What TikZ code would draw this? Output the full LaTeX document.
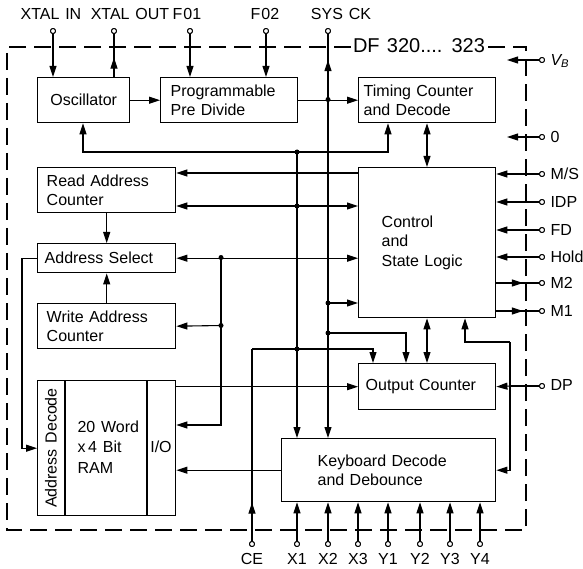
\documentclass[tikz,border=0pt]{standalone}
\usepackage{fontspec}
\setmainfont{Liberation Sans}[WordSpace=1.3]
\usetikzlibrary{arrows.meta,decorations.markings}
\begin{document}
\begin{tikzpicture}[x=1pt,y=-1pt,
  every node/.style={font=\fontsize{16}{18.5}\selectfont},
  blk/.style={draw, line width=1.4pt, anchor=north west, inner ysep=0pt},
  wire/.style={line width=1.1pt},
  tipa/.tip={Triangle[length=11pt,width=7pt]},
  arr/.style={wire, -tipa},
  arrboth/.style={wire, tipa-tipa},
  midarr/.style={wire, postaction={decorate}, decoration={markings, mark=at position #1 with {\arrow{tipa}}}},
  term/.style={circle, draw, line width=0.9pt, fill=white, inner sep=0pt, minimum size=5pt},
  bord/.style={line width=1.5pt, dash pattern=on 17pt off 8pt},
  dotj/.style={fill=black}
]
\useasboundingbox (0,0) rectangle (583,569);

% ---------- boxes ----------
\node[blk, minimum width=92pt, minimum height=45pt] (osc) at (37,77) {Oscillator};
\node[blk, minimum width=137pt, minimum height=45pt, text width=117pt, inner xsep=10pt, align=left] (ppd) at (160,77) {Programmable\\Pre Divide};
\node[blk, minimum width=137pt, minimum height=45pt, text width=127pt, inner xsep=5pt, align=left] (tcd) at (358,77) {Timing Counter\\and Decode};
\node[blk, minimum width=137pt, minimum height=150pt, text width=91pt, inner xsep=23pt, align=left, font=\fontsize{16}{19.5}\selectfont] (ctl) at (358,167) {Control\\and\\State Logic};
\node[blk, minimum width=138pt, minimum height=45pt, text width=120pt, inner xsep=9pt, align=left] (rac) at (37,167) {Read Address\\Counter};
\node[blk, minimum width=138pt, minimum height=29pt, text width=124pt, inner xsep=7pt, align=left] (asel) at (37,243) {Address Select};
\node[blk, minimum width=138pt, minimum height=45pt, text width=120pt, inner xsep=9pt, align=left] (wac) at (37,303) {Write Address\\Counter};
\node[blk, minimum width=138pt, minimum height=135pt] (ram) at (37,380) {};
\node[blk, minimum width=137pt, minimum height=46pt, text width=123pt, inner xsep=7pt, align=left] (oc) at (358,363) {Output Counter};
\node[blk, minimum width=214pt, minimum height=63pt, text width=142pt, inner xsep=36pt, align=left] (kdd) at (281,438) {Keyboard Decode\\and Debounce};

% RAM interior
\draw[line width=1.4pt] ([xshift=28pt]ram.north west) -- ([xshift=28pt]ram.south west);
\draw[line width=1.4pt] ([xshift=110pt]ram.north west) -- ([xshift=110pt]ram.south west);
\node[rotate=90] (adec) at (51,448) {Address Decode};
\node[anchor=west, align=left, font=\fontsize{16}{20.5}\selectfont] (ramtxt) at (74,447) {20 Word\\x\,4 Bit\\RAM};
\node (io) at (161,447) {I/O};

% ---------- border ----------
\draw[bord] (351,47) -- (7,47) -- (7,530) -- (526,530) -- (526,47) -- (488,47);
\node[font=\fontsize{20}{22}\selectfont] (title) at (419,46) {DF 320.... 323};

% ---------- terminals ----------
\node[term] (pxin) at (53,31) {};
\node[term] (pxout) at (114,31) {};
\node[term] (pf01) at (190,31) {};
\node[term] (pf02) at (266,31) {};
\node[term] (psys) at (328,31) {};
\node (lxin) at (51,14) {XTAL IN};
\node (lxout) at (130,14) {XTAL OUT};
\node (lf01) at (187,14) {F\kern1pt 01};
\node (lf02) at (265,14) {F\kern1pt 02};
\node (lsys) at (341,14) {SYS CK};

\node[term] (pvb) at (542,60) {};
\node[term] (p0) at (542,137) {};
\node[term] (pms) at (542,174) {};
\node[term] (pidp) at (542,202) {};
\node[term] (pfd) at (542,230) {};
\node[term] (phold) at (542,257) {};
\node[term] (pm2) at (542,283) {};
\node[term] (pm1) at (542,311) {};
\node[term] (pdp) at (542,386) {};
\node[anchor=west] (lvb) at (547,61) {\itshape V\textsubscript{\itshape B}};
\node[anchor=west] (l0) at (547,137) {0};
\node[anchor=west] (lms) at (547,174) {M/S};
\node[anchor=west] (lidp) at (547,202) {IDP};
\node[anchor=west] (lfd) at (547,230) {FD};
\node[anchor=west] (lhold) at (547,257) {Hold};
\node[anchor=west] (lm2) at (547,283) {M2};
\node[anchor=west] (lm1) at (547,311) {M1};
\node[anchor=west] (ldp) at (547,385) {DP};

\node[term] (pce) at (252,544) {};
\node[term] (px1) at (297,544) {};
\node[term] (px2) at (328,544) {};
\node[term] (px3) at (358,544) {};
\node[term] (py1) at (388,544) {};
\node[term] (py2) at (420,544) {};
\node[term] (py3) at (450,544) {};
\node[term] (py4) at (480,544) {};
\node (lce) at (252,559) {CE};
\node (lx1) at (297,559) {X1};
\node (lx2) at (328,559) {X2};
\node (lx3) at (358,559) {X3};
\node (ly1) at (388,559) {Y1};
\node (ly2) at (420,559) {Y2};
\node (ly3) at (450,559) {Y3};
\node (ly4) at (480,559) {Y4};

% ---------- junctions ----------
\coordinate (jclk) at (328,99.5);
\coordinate (jbus) at (297,152);
\coordinate (jra) at (297,206);
\coordinate (jas) at (221,257.5);
\coordinate (jwa) at (221,325.5);
\coordinate (jce) at (297,349);
\coordinate (jck1) at (328,303);
\coordinate (jck2) at (328,333);
\coordinate (jrt) at (510,342);
\coordinate (jdp) at (510,386);
\coordinate (vbend) at (507,60);
\coordinate (zend) at (507,137);

% ---------- connectors ----------
\draw[arr] (pxin) -- (pxin |- osc.north);
\draw[midarr=0.45] (pxout |- osc.north) -- (pxout);
\draw[arr] (pf01) -- (pf01 |- ppd.north);
\draw[arr] (pf02) -- (pf02 |- ppd.north);
\draw[arr] (osc.east) -- (ppd.west);
\draw[arr] (ppd.east) -- (tcd.west);
\draw[midarr=0.6] (jclk) -- (psys);
\draw[arr] (jclk) -- (jclk |- kdd.north);

\draw[arr] (jbus) -| ([xshift=30pt]tcd.south west);
\draw[arr] (jbus) -| ([xshift=46pt]osc.south west);
\draw[arr] (jbus) -- (jbus |- kdd.north);
\draw[arrboth] ([xshift=69pt]tcd.south west) -- ([xshift=69pt]ctl.north west);

\draw[arr] ([yshift=-6pt]ctl.north west) -- ([yshift=-6pt]rac.north east);
\draw[arr] (jra) -- (jra -| rac.east);
\draw[arr] (jra) -- (jra -| ctl.west);
\draw[arr] (rac.south) -- (asel.north);
\draw[arr] (wac.north) -- (asel.south);
\draw[arrboth] (asel.east) -- (asel.east -| ctl.west);
\draw[arr] (jas) |- ([yshift=-45pt]ram.north east);
\draw[arr] (jwa) -- (wac.east);
\draw[arr] (asel.west) -- ++(-15,0) |- (ram.west);
\draw[arr] (ram.east |- oc.west) -- (oc.west);
\draw[arr] (kdd.west) -- (kdd.west -| ram.east);

\draw[midarr=0.2] (pce) -- (pce |- jce);
\draw[arr] (pce |- jce) -| ([xshift=15pt]oc.north west);
\draw[arr] (jck2) -| ([xshift=48pt]oc.north west);
\draw[arrboth] ([xshift=69pt]ctl.south west) -- ([xshift=69pt]oc.north west);
\draw[arr] (jck1) -- (jck1 -| ctl.west);
\draw[arr] (jrt) -| ([xshift=107pt]ctl.south west);
\draw[arr] (jrt) |- (kdd.east);
\draw[wire] (pdp) -- (jdp);
\draw[arr] (jdp) -- (oc.east);

\draw[arr] (pvb) -- (vbend);
\draw[arr] (p0) -- (zend);
\draw[arr] (pms) -- (pms -| ctl.east);
\draw[arr] (pidp) -- (pidp -| ctl.east);
\draw[arr] (pfd) -- (pfd -| ctl.east);
\draw[arr] (phold) -- (phold -| ctl.east);
\draw[midarr=0.62] (pm2 -| ctl.east) -- (pm2);
\draw[midarr=0.62] (pm1 -| ctl.east) -- (pm1);

\foreach \p in {px1,px2,px3,py1,py2,py3,py4}
  \draw[arr] (\p) -- (\p |- kdd.south);

% redraw terminals on top
\foreach \p in {pxin,pxout,pf01,pf02,psys,pvb,p0,pms,pidp,pfd,phold,pm2,pm1,pdp,pce,px1,px2,px3,py1,py2,py3,py4}
  \draw[line width=0.9pt, fill=white] (\p) circle (2.5pt);

% dots
\foreach \p in {jclk,jbus,jra,jas,jwa,jce,jck1,jck2}
  \fill[dotj] (\p) circle (2.5pt);
\end{tikzpicture}
\end{document}
